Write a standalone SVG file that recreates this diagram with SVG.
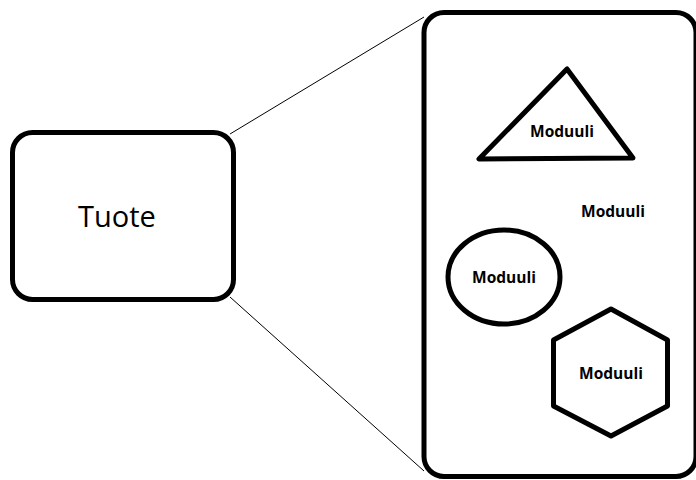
<svg xmlns="http://www.w3.org/2000/svg" width="696" height="480" viewBox="0 0 696 480">
<style>
.s{fill:#fff;stroke:#000;stroke-width:5;stroke-linejoin:round}
.m{font-family:"Open Sans","DejaVu Sans",sans-serif;font-weight:bold;font-size:15.5px;fill:#000;text-anchor:middle}
.c{stroke:#000;stroke-width:1;fill:none}
</style>
<rect width="696" height="480" fill="#fff"/>
<g id="connectors">
<line class="c" x1="230" y1="134" x2="424" y2="17"/>
<line class="c" x1="230" y1="297" x2="424" y2="471"/>
</g>
<g id="tuote">
<rect class="s" x="12.5" y="132.5" width="221" height="167" rx="20"/>
<text x="117" y="227" font-family="Open Sans, DejaVu Sans, sans-serif" font-size="29" text-anchor="middle" fill="#000">Tuote</text>
</g>
<g id="container">
<rect class="s" x="424" y="12.5" width="272" height="464" rx="20"/>
</g>
<g id="triangle">
<polygon class="s" points="567,69 479,159 633,158" stroke-width="4.5"/>
<text class="m" x="562" y="137">Moduuli</text>
</g>
<g id="plain">
<text class="m" x="613" y="217">Moduuli</text>
</g>
<g id="ellipse">
<ellipse class="s" cx="504" cy="277" rx="56" ry="47" stroke-width="4.5"/>
<text class="m" x="504" y="283">Moduuli</text>
</g>
<g id="hexagon">
<polygon class="s" points="611,309 667.5,340 667.5,406 611,436 553.5,406 553.5,340" stroke-width="4.5"/>
<text class="m" x="611" y="379">Moduuli</text>
</g>
</svg>
